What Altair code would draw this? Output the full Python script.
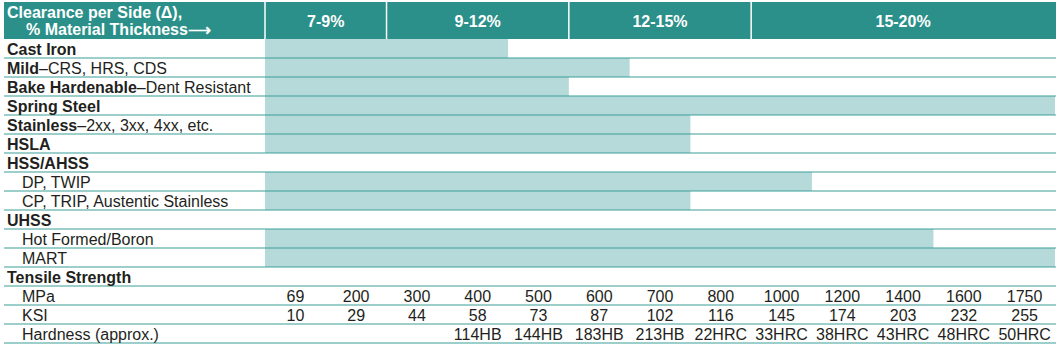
import altair as alt
import pandas as pd

# ---------------- data ----------------
row_bold = ["Cast Iron", "Mild", "Bake Hardenable", "Spring Steel", "Stainless", "HSLA",
            "HSS/AHSS", "", "", "UHSS", "", "", "Tensile Strength", "", "", ""]
row_regular = ["", "–CRS, HRS, CDS", "–Dent Resistant", "", "–2xx, 3xx, 4xx, etc.", "",
               "", "DP, TWIP", "CP, TRIP, Austentic Stainless", "", "Hot Formed/Boron", "MART",
               "", "MPa", "KSI", "Hardness (approx.)"]
row_indent = [0, 0, 0, 0, 0, 0, 0, 1, 1, 0, 1, 1, 0, 1, 1, 1]

bar_rows = [0, 1, 2, 3, 4, 5, 7, 8, 10, 11]
bar_end_cols = [4, 6, 5, 13, 7, 7, 9, 7, 11, 13]

header_labels = ["7-9%", "9-12%", "12-15%", "15-20%"]
header_start = [0, 2, 5, 8]
header_end = [2, 5, 8, 13]

mpa = ["69", "200", "300", "400", "500", "600", "700", "800", "1000", "1200", "1400", "1600", "1750"]
ksi = ["10", "29", "44", "58", "73", "87", "102", "116", "145", "174", "203", "232", "255"]
hardness = ["", "", "", "114HB", "144HB", "183HB", "213HB", "22HRC", "33HRC", "38HRC", "43HRC", "48HRC", "50HRC"]

# ---------------- styling ----------------
FONT = "Liberation Sans"
FS = 16
TEAL = "#2b9089"
LINE = "#3a9d97"
BAR = "#b5dad9"
INK = "#231f20"
N_COLS = 13
X0, X1 = 265, 1055
COLW = (X1 - X0) / N_COLS

# Arial/Liberation Sans Bold advance widths (per 1000 em)
BOLD_W = {" ": 278, "B": 722, "H": 722, "M": 833, "S": 667, "a": 556, "b": 611, "d": 611,
          "e": 556, "i": 278, "k": 556, "l": 278, "n": 611, "r": 389, "s": 556, "t": 333}


def bold_width(s):
    return sum(BOLD_W.get(c, 600) for c in s) * FS / 1000.0


def px_to_col(px):
    return (px - X0) / COLW


xs = alt.Scale(domain=[0, N_COLS], range=[X0, X1])
ys = alt.Scale(domain=[0, 16], range=[39, 343])

# label table
lab_rows = []
for i, (b, r, ind) in enumerate(zip(row_bold, row_regular, row_indent)):
    px = 7 + 15 * ind
    if b:
        lab_rows.append({"row": i, "rb": i + 1, "x": px_to_col(px), "text": b, "w": "bold"})
    if r:
        lab_rows.append({"row": i, "rb": i + 1, "x": px_to_col(px + (bold_width(b) if b else 0)),
                         "text": r, "w": "normal"})
labels = pd.DataFrame(lab_rows)

bars = pd.DataFrame({"row": bar_rows, "rb": [r + 1 for r in bar_rows],
                     "x0": [0] * len(bar_rows), "x1": bar_end_cols})

hdr = pd.DataFrame({"label": header_labels, "s": header_start, "e": header_end})
hdr["mid"] = (hdr["s"] + hdr["e"]) / 2

vals = []
for ri, arr in zip([13, 14, 15], [mpa, ksi, hardness]):
    for c, v in enumerate(arr):
        if v:
            vals.append({"rb": ri + 1, "xc": c + 0.5, "text": v})
vals = pd.DataFrame(vals)

lines = pd.DataFrame({"rb": list(range(1, 17))})
dividers = pd.DataFrame({"c": header_start})

# ---------------- layers ----------------
header_rect = alt.Chart(pd.DataFrame({"a": [0]})).mark_rect(color=TEAL).encode(
    x=alt.value(4), x2=alt.value(1056), y=alt.value(2), y2=alt.value(39))

header_div = alt.Chart(dividers).mark_rule(color="white", strokeWidth=1.5).encode(
    x=alt.X("c:Q", scale=xs, axis=None), y=alt.value(2), y2=alt.value(39))

header_cols = alt.Chart(hdr).mark_text(font=FONT, fontSize=FS, fontWeight="bold", color="white",
                                       align="center", baseline="alphabetic").encode(
    x=alt.X("mid:Q", scale=xs, axis=None), y=alt.value(27), text="label:N")

header_t1 = alt.Chart(pd.DataFrame({"t": ["Clearance per Side (Δ),"]})).mark_text(
    font=FONT, fontSize=FS, fontWeight="bold", color="white", align="left", baseline="alphabetic").encode(
    x=alt.value(7), y=alt.value(18), text="t:N")
header_t2 = alt.Chart(pd.DataFrame({"t": ["% Material Thickness⟶"]})).mark_text(
    font=FONT, fontSize=FS, fontWeight="bold", color="white", align="left", baseline="alphabetic").encode(
    x=alt.value(26), y=alt.value(35), text="t:N")

bar_layer = alt.Chart(bars).mark_rect(color=BAR).encode(
    x=alt.X("x0:Q", scale=xs, axis=None), x2="x1:Q",
    y=alt.Y("row:Q", scale=ys, axis=None), y2="rb:Q")

line_layer = alt.Chart(lines).mark_rule(color=LINE, strokeWidth=1.2).encode(
    x=alt.value(4), x2=alt.value(1056), y=alt.Y("rb:Q", scale=ys, axis=None))

label_bold = alt.Chart(labels).transform_filter(alt.datum.w == "bold").mark_text(
    font=FONT, fontSize=FS, fontWeight="bold", color=INK, align="left", baseline="alphabetic", dy=-3.5).encode(
    x=alt.X("x:Q", scale=xs, axis=None), y=alt.Y("rb:Q", scale=ys, axis=None), text="text:N")

label_reg = alt.Chart(labels).transform_filter(alt.datum.w == "normal").mark_text(
    font=FONT, fontSize=FS, color=INK, align="left", baseline="alphabetic", dy=-3.5).encode(
    x=alt.X("x:Q", scale=xs, axis=None), y=alt.Y("rb:Q", scale=ys, axis=None), text="text:N")

val_layer = alt.Chart(vals).mark_text(
    font=FONT, fontSize=FS, color=INK, align="center", baseline="alphabetic", dy=-3.5).encode(
    x=alt.X("xc:Q", scale=xs, axis=None), y=alt.Y("rb:Q", scale=ys, axis=None), text="text:N")

chart = alt.layer(
    header_rect, header_div, header_cols, header_t1, header_t2,
    bar_layer, line_layer, label_bold, label_reg, val_layer
).properties(
    width=1060, height=355, padding=0, autosize=alt.AutoSizeParams(type="none"), background="white"
).configure_view(stroke=None)

chart.save("out.html", embed_options={"renderer": "svg", "actions": False})
